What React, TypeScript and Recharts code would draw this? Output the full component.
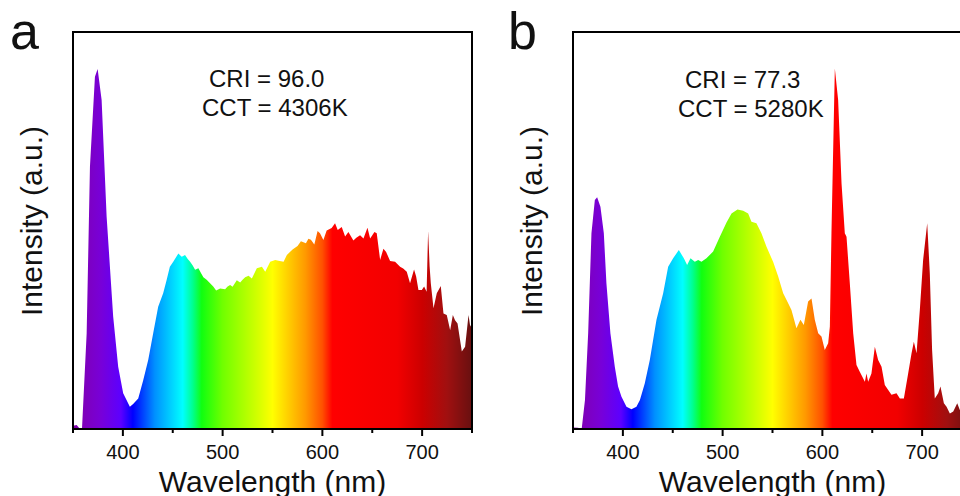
import React from "react";
import { AreaChart, Area, XAxis, YAxis, ReferenceArea } from "recharts";

// ---------- data ----------
const wavelengthsA = [
  350, 353.7, 357, 359, 363.7, 367, 372, 374.7, 378.7, 383.7, 390.3, 395.3, 400.3, 407, 410.3, 415.4,
  420.4, 425.4, 430.4, 435.4, 440.4, 443.8, 447.1, 450.5, 455.6, 459, 462.3, 465, 467.4, 470, 472.4, 475.7,
  478, 480.7, 484, 487.4, 490.6, 493.5, 497.5, 502.5, 505, 507.5, 510, 514.2, 517.6, 520, 522.6, 526, 529.3,
  534.3, 539.4, 542.7, 547.7, 552.7, 556, 561.1, 564.4, 570.1, 575.1, 578.5, 583.5, 586, 588.5, 591.9, 595.2,
  597.6, 601, 604.3, 609.3, 612.7, 615.4, 619.4, 622.8, 626.1, 631.1, 634, 637.8, 641.2, 645.2, 647.9, 652.2,
  654.5, 657.9, 661.2, 663.9, 667.9, 672.9, 677.9, 681, 684.6, 687.9, 691.9, 694, 696.3, 699.7, 702, 704.5,
  706, 707.5, 708.7, 711.4, 714.7, 718.7, 721.4, 724.7, 728.1, 730.8, 733, 735.5, 739.8, 743.1, 746.5, 748, 750,
];
const intensityA = [
  0.8, 1.0, 0, 0, 24.1, 66.1, 88.7, 90.7, 82.9, 53.5, 28.3, 15.7, 9, 5.6, 6.3, 7.7,
  12.3, 17.4, 24.1, 30.8, 34.2, 37.5, 40.9, 42.1, 44.2, 43.4, 43.8, 42.8, 42.1, 41.2, 40.1, 40.5,
  39.4, 38.2, 37.6, 36.7, 35.9, 34.9, 35.4, 35.2, 35.9, 36.3, 35.8, 37.5, 36.9, 37.6, 38.2, 38.6, 37.9,
  40.5, 40.9, 39.6, 42.1, 42.6, 42.4, 42.1, 43.8, 45.2, 46.1, 47.3, 46.8, 47.9, 47.7, 46.5, 49.9,
  49.3, 47.6, 50, 50.6, 51.8, 50.1, 50.9, 48.5, 49.6, 47.5, 48.2, 48.8, 48, 50.7, 48, 49.6,
  49.3, 42.6, 45.4, 44.6, 42.3, 42.1, 40.9, 40.4, 39.6, 36.7, 40.2, 38.4, 35, 35, 35.9, 34.6,
  49.9, 41, 36.7, 30.4, 34.2, 36, 29.1, 28.7, 24.9, 28.7, 27.4, 26.6, 19.5, 20.7, 28.7, 26.2, 25.4,
];

const wavelengthsB = [
  350, 355, 358.7, 362, 365.2, 368.5, 371.9, 374.2, 377.5, 380.9, 383.5, 387.5, 391.9, 395.2, 398.6, 403.6,
  408.6, 413.6, 417.1, 422, 427, 433.7, 440.4, 445.4, 450.4, 456.1, 461.1, 464.4, 467.8, 472.1, 475.5, 478.8,
  483.8, 490.5, 497.2, 503.9, 508.9, 514.9, 520.6, 525.6, 528.9, 533.9, 538.9, 544, 550.6, 555.7, 560.7,
  565.7, 569, 574, 578, 581.4, 585.7, 589.1, 592.4, 595.8, 599.1, 602.4, 605.8, 607.5, 609.1, 612.5, 615.8,
  619.2, 622.5, 624.2, 627.5, 630.9, 634.2, 637.5, 642.6, 644.2, 645.9, 649.2, 652.6, 655.9, 659.3, 662.6,
  666, 669.3, 674.3, 677.7, 681.7, 686, 689.4, 691.7, 694.4, 697.7, 701, 705.1, 707.7, 710, 712.7, 716.1,
  718.4, 721.8, 724.5, 727.8, 731.2, 735.2, 737.8, 742, 746, 750,
];
const intensityB = [
  0.4, 0.3, 0, 7.3, 24.1, 49.3, 57.7, 58.4, 56, 49.3, 36.7, 24.1, 15.7, 10.7, 8.1, 5.6,
  5.0, 5.6, 7.3, 11.5, 17.4, 27.5, 34.2, 40.9, 43, 45.1, 43, 41.3, 43, 42.1, 42.6, 42.1,
  43, 44.7, 48.4, 52, 54.3, 55.3, 55, 54.3, 52.2, 51.8, 49.3, 45.9, 42.1, 38.4, 34.2,
  31.7, 30, 25.4, 27.5, 26.2, 32.1, 32.9, 27.5, 24.1, 23.3, 19.9, 21.6, 25.8, 49.3, 90.8, 82.9,
  61.9, 49.3, 48.4, 36.7, 24.1, 16.1, 14.4, 11.9, 14, 11.9, 14, 20.7, 17.4, 15.7, 11.1,
  9.8, 8.6, 9, 7.7, 7.7, 14, 19.1, 22, 19.1, 30, 42.6, 51.8, 39.2, 19.9, 7.7, 9,
  10.7, 6.5, 5.6, 3.9, 4.4, 6.5, 4.8, 6, 5, 5,
];

const xTicks = [350, 400, 450, 500, 550, 600, 650, 700, 750];
const majorTicks = [400, 500, 600, 700];

const spectrumStops: [number, string][] = [
  [350, "#8200a8"],
  [378, "#7800d8"],
  [398, "#5c00ff"],
  [410, "#0000ff"],
  [432, "#0090ff"],
  [460, "#00ffff"],
  [470, "#00ff90"],
  [479, "#10ff10"],
  [500, "#70ff00"],
  [517, "#a0ff00"],
  [537, "#d8ff00"],
  [550, "#ffff00"],
  [583, "#ff9900"],
  [600, "#ff5000"],
  [610, "#ff0000"],
  [675, "#f20000"],
  [700, "#cc0000"],
  [725, "#a01010"],
  [750, "#681010"],
];

const FONT = "'Liberation Sans', Arial, Helvetica, sans-serif";

const dataA = wavelengthsA.map((wl, i) => ({ wl, v: intensityA[i] }));
const dataB = wavelengthsB.map((wl, i) => ({ wl, v: intensityB[i] }));

function Tick(props: any) {
  const { x, y, payload } = props;
  const major = majorTicks.includes(payload.value);
  return (
    <g>
      <line x1={x} x2={x} y1={y} y2={y + (major ? 7 : 4)} stroke="#000" strokeWidth={2} />
      {major && (
        <text x={x} y={y + 30} textAnchor="middle" fontSize={20} fontFamily={FONT} fill="#111">
          {payload.value}
        </text>
      )}
    </g>
  );
}

function Panel({ data, gid }: { data: { wl: number; v: number }[]; gid: string }) {
  return (
    <AreaChart
      width={500}
      height={496}
      data={data}
      margin={{ top: 32, right: 28, bottom: 0, left: 73 }}
    >
      <defs>
        <linearGradient id={gid} x1="0" y1="0" x2="1" y2="0">
          {spectrumStops.map(([wl, c]) => (
            <stop key={wl} offset={(wl - 350) / 400} stopColor={c} />
          ))}
        </linearGradient>
      </defs>
      <XAxis
        dataKey="wl"
        type="number"
        domain={[350, 750]}
        ticks={xTicks}
        interval={0}
        height={67}
        tickSize={0}
        tickMargin={0}
        tickLine={false}
        axisLine={false}
        tick={<Tick />}
        allowDataOverflow
      />
      <YAxis type="number" domain={[0, 100]} hide allowDataOverflow />
      <Area
        type="linear"
        dataKey="v"
        stroke="none"
        fill={`url(#${gid})`}
        fillOpacity={1}
        dot={false}
        activeDot={false}
        isAnimationActive={false}
      />
      <ReferenceArea
        x1={350}
        x2={750}
        y1={0}
        y2={100}
        fill="none"
        fillOpacity={0}
        stroke="#000"
        strokeWidth={2}
        ifOverflow="visible"
      />
    </AreaChart>
  );
}

export default function App() {
  return (
    <div
      style={{
        position: "fixed",
        left: 0,
        top: 0,
        width: 960,
        height: 496,
        overflow: "hidden",
        background: "#fff",
      }}
    >
      <div style={{ position: "absolute", left: 0, top: 0 }}>
        <Panel data={dataA} gid="specA" />
      </div>
      <div style={{ position: "absolute", left: 500, top: 0 }}>
        <Panel data={dataB} gid="specB" />
      </div>
      <svg
        width={960}
        height={496}
        style={{ position: "absolute", left: 0, top: 0, pointerEvents: "none" }}
      >
        <g fontFamily={FONT} fill="#111">
          <text x={10} y={49} fontSize={52}>a</text>
          <text x={508} y={49} fontSize={52}>b</text>

          <text x={209} y={87} fontSize={24}>CRI = 96.0</text>
          <text x={202} y={116} fontSize={24}>CCT = 4306K</text>
          <text x={685} y={87.5} fontSize={24}>CRI = 77.3</text>
          <text x={678} y={116.5} fontSize={24}>CCT = 5280K</text>

          <text x={272.5} y={491.5} fontSize={30} textAnchor="middle">Wavelength (nm)</text>
          <text x={772.5} y={491.5} fontSize={30} textAnchor="middle">Wavelength (nm)</text>

          <text x={42} y={221} fontSize={30} textAnchor="middle" transform="rotate(-90 42 221)">
            Intensity (a.u.)
          </text>
          <text x={542} y={221} fontSize={30} textAnchor="middle" transform="rotate(-90 542 221)">
            Intensity (a.u.)
          </text>
        </g>
      </svg>
    </div>
  );
}
